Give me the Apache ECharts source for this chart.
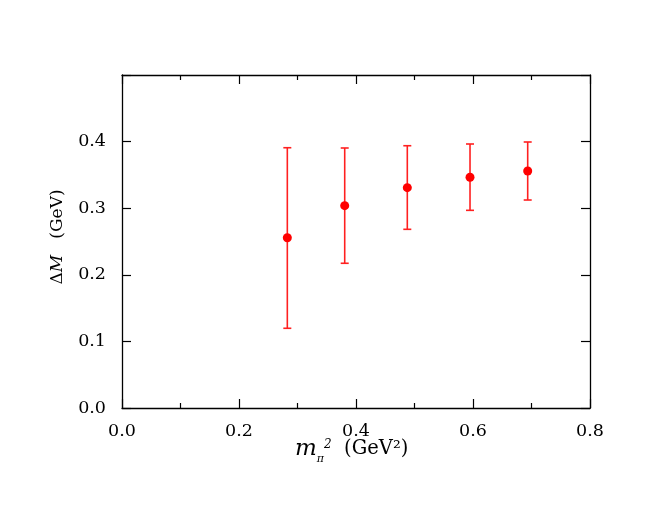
<!DOCTYPE html>
<html><head><meta charset="utf-8">
<script src="https://cdn.jsdelivr.net/npm/echarts@6/dist/echarts.min.js"></script>
<style>html,body{margin:0;padding:0;background:#fff}#c{width:654px;height:505px}</style>
</head><body><div id="c"></div>
<script>
const mpi2 = [0.2826, 0.3807, 0.4877, 0.5949, 0.6935];
const deltaM = [0.2557, 0.3038, 0.3308, 0.3464, 0.3559];
const errLow = [0.1197, 0.2173, 0.2683, 0.2968, 0.3123];
const errHigh = [0.3908, 0.3904, 0.3938, 0.3964, 0.3994];
const xTicks = [0.0, 0.2, 0.4, 0.6, 0.8];
const yTicks = [0.0, 0.1, 0.2, 0.3, 0.4];

const chart = echarts.init(document.getElementById('c'));
const L = 122, T = 75, W = 468, H = 333;
const pts = mpi2.map((x, i) => [x, deltaM[i]]);
const errs = mpi2.map((x, i) => [x, errLow[i], errHigh[i]]);
const axisLine = {show: true, onZero: false, lineStyle: {color: '#000', width: 1.3}};
const fmtX = v => xTicks.some(t => Math.abs(t - v) < 1e-9) ? v.toFixed(1) : '';
const fmtY = v => yTicks.some(t => Math.abs(t - v) < 1e-9) ? v.toFixed(1) : '';
const labelFont = {color: '#000', fontSize: 17.5, fontFamily: 'DejaVu Serif'};
chart.setOption({
  animation: false,
  grid: {left: L, top: T, width: W, height: H, containLabel: false},
  xAxis: [
    {type: 'value', min: 0, max: 0.8, interval: 0.2, position: 'bottom',
     axisLine, splitLine: {show: false},
     axisTick: {inside: true, length: 9, lineStyle: {color: '#000', width: 1.2}},
     minorTick: {show: true, splitNumber: 2, length: 5, lineStyle: {color: '#000', width: 1.2}},
     axisLabel: Object.assign({formatter: fmtX, margin: 14}, labelFont)},
    {type: 'value', min: 0, max: 0.8, interval: 0.2, position: 'top',
     axisLine, splitLine: {show: false},
     axisTick: {inside: true, length: 9, lineStyle: {color: '#000', width: 1.2}},
     minorTick: {show: true, splitNumber: 2, length: 5, lineStyle: {color: '#000', width: 1.2}},
     axisLabel: {show: false}}
  ],
  yAxis: [
    {type: 'value', min: 0, max: 0.5, interval: 0.1, position: 'left',
     axisLine, splitLine: {show: false},
     axisTick: {inside: true, length: 9, lineStyle: {color: '#000', width: 1.2}},
     axisLabel: Object.assign({formatter: fmtY, margin: 16}, labelFont)},
    {type: 'value', min: 0, max: 0.5, interval: 0.1, position: 'right',
     axisLine, splitLine: {show: false},
     axisTick: {inside: true, length: 9, lineStyle: {color: '#000', width: 1.2}},
     axisLabel: {show: false}}
  ],
  series: [
    {type: 'custom', xAxisIndex: 0, yAxisIndex: 0, data: errs,
     encode: {x: 0, y: [1, 2]},
     renderItem: function (params, api) {
       const x = api.value(0);
       const lo = api.coord([x, api.value(1)]);
       const hi = api.coord([x, api.value(2)]);
       const cw = 4;
       const st = {stroke: '#ff2020', lineWidth: 1.6, fill: null};
       return {type: 'group', children: [
         {type: 'line', shape: {x1: lo[0], y1: lo[1], x2: hi[0], y2: hi[1]}, style: st},
         {type: 'line', shape: {x1: lo[0] - cw, y1: lo[1], x2: lo[0] + cw, y2: lo[1]}, style: st},
         {type: 'line', shape: {x1: hi[0] - cw, y1: hi[1], x2: hi[0] + cw, y2: hi[1]}, style: st}
       ]};
     }},
    {type: 'scatter', xAxisIndex: 0, yAxisIndex: 0, data: pts, symbol: 'circle', symbolSize: 9,
     itemStyle: {color: '#ff0000', opacity: 1}, z: 5}
  ],
  graphic: [
    {type: 'text', left: 295, top: 433,
     style: {text: '{m|m}{sub|π}{sup|2}{n|  (GeV²)}',
       rich: {
         m: {fontFamily: 'DejaVu Serif', fontStyle: 'italic', fontSize: 23, fill: '#000', verticalAlign: 'middle', lineHeight: 32},
         sub: {fontFamily: 'DejaVu Serif', fontStyle: 'italic', fontSize: 11, fill: '#000', verticalAlign: 'bottom', lineHeight: 32},
         sup: {fontFamily: 'DejaVu Serif', fontStyle: 'italic', fontSize: 12, fill: '#000', verticalAlign: 'top', lineHeight: 32, padding: [6, 0, 0, 0]},
         n: {fontFamily: 'DejaVu Serif', fontSize: 19.5, fill: '#000', verticalAlign: 'middle', lineHeight: 32}
       }}},
    {type: 'text', x: 58, y: 237, rotation: Math.PI / 2,
     style: {text: '{d|Δ}{mi|M}{n|   (GeV)}', align: 'center', verticalAlign: 'middle',
       rich: {
         d: {fontFamily: 'DejaVu Serif', fontSize: 17, fill: '#000'},
         mi: {fontFamily: 'DejaVu Serif', fontStyle: 'italic', fontSize: 17, fill: '#000'},
         n: {fontFamily: 'DejaVu Serif', fontSize: 17, fill: '#000'}
       }}}
  ]
});
</script></body></html>
